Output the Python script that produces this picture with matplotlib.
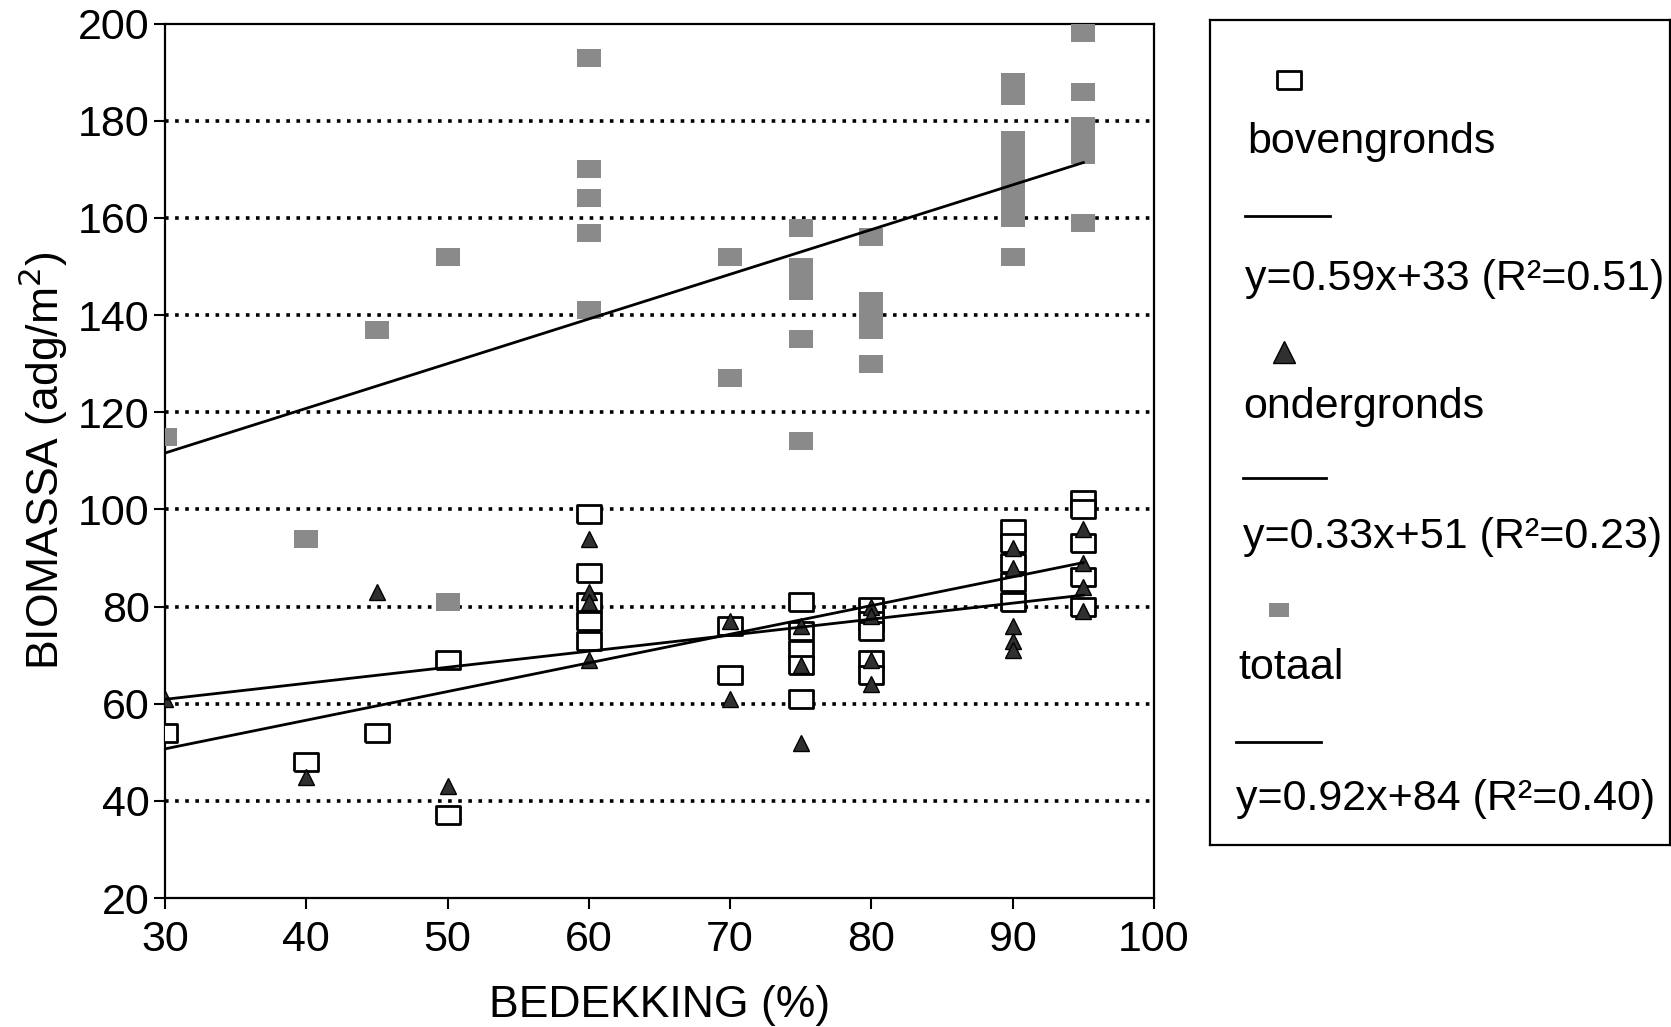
import numpy as np
import matplotlib.pyplot as plt

plt.rcParams['font.family'] = ['Liberation Sans', 'DejaVu Sans']

# bovengronds (open rectangles)
bov_x = [30, 40, 45, 50, 50, 60, 60, 60, 60, 60, 70, 70,
         75, 75, 75, 75, 75, 80, 80, 80, 80, 80,
         90, 90, 90, 90, 90, 95, 95, 95, 95, 95]
bov_y = [54, 48, 54, 69, 37, 99, 87, 81, 77, 73, 76, 66,
         81, 75, 71, 68, 61, 80, 77, 75, 69, 66,
         96, 93, 89, 85, 81, 102, 100, 93, 86, 80]

# ondergronds (triangles)
ond_x = [30, 40, 45, 50, 60, 60, 60, 60, 70, 70,
         75, 75, 75, 80, 80, 80, 80,
         90, 90, 90, 90, 90, 95, 95, 95, 95]
ond_y = [61, 45, 83, 43, 94, 83, 81, 69, 77, 61,
         76, 68, 52, 80, 78, 69, 64,
         92, 88, 76, 73, 71, 96, 89, 84, 79]

# totaal (grey blocks)
tot_x = [30, 40, 45, 50, 50, 60, 60, 60, 60, 60, 70, 70,
         75, 75, 75, 75, 75, 75, 80, 80, 80, 80, 80,
         90, 90, 90, 90, 90, 90, 90, 90, 90, 90,
         95, 95, 95, 95, 95, 95]
tot_y = [115, 94, 137, 152, 81, 193, 170, 164, 157, 141, 152, 127,
         158, 150, 147, 145, 135, 114, 156, 143, 140, 137, 130,
         188, 185, 176, 173, 170, 167, 165, 162, 160, 152,
         198, 186, 179, 176, 173, 159]

# regression lines (slope, intercept) from the legend
fits = {'bov': (0.59, 33), 'ond': (0.33, 51), 'tot': (0.92, 84)}
fit_labels = ['y=0.59x+33 (R²=0.51)', 'y=0.33x+51 (R²=0.23)', 'y=0.92x+84 (R²=0.40)']

rect = [(-1.3, -1), (1.3, -1), (1.3, 1), (-1.3, 1), (-1.3, -1)]
grey = '#8a8a8a'

fig = plt.figure(figsize=(16.71, 10.27), dpi=100)
ax = fig.add_axes([0.0987, 0.1256, 0.5919, 0.8514])

for yy in range(40, 200, 20):
    ax.axhline(yy, color='black', lw=2.6, ls=(0, (1, 1.8)), zorder=1)

ax.plot(tot_x, tot_y, ls='none', marker=rect, ms=17, mfc=grey, mec=grey, mew=0, zorder=3)
ax.plot(bov_x, bov_y, ls='none', marker=rect, ms=17, mfc='white', mec='black', mew=2, zorder=4)
ax.plot(ond_x, ond_y, ls='none', marker='^', ms=12, mfc='#303030', mec='black', mew=1, zorder=5)

xf = np.array([30, 95])
for k in ['bov', 'ond', 'tot']:
    a, b = fits[k]
    ax.plot(xf, a * xf + b, color='black', lw=2, zorder=6)

ax.set_xlim(30, 100)
ax.set_ylim(20, 200)
ax.set_xticks(range(30, 101, 10))
ax.set_yticks(range(20, 201, 20))
ax.tick_params(labelsize=31, length=8, width=1.5, direction='out')
ax.tick_params(axis='x', pad=8)
ax.tick_params(axis='y', pad=3)
for s in ax.spines.values():
    s.set_linewidth(1.6)
ax.set_xlabel('BEDEKKING (%)', fontsize=32, labelpad=18)
ax.set_ylabel('BIOMASSA (adg/m$^2$)', fontsize=32, labelpad=6)

# legend box drawn in pixel coordinates of the figure
lg = fig.add_axes([0.7241, 0.1772, 0.2753, 0.8033])
lg.set_xlim(1210, 1670)
lg.set_ylim(845, 20)
lg.set_xticks([])
lg.set_yticks([])
for s in lg.spines.values():
    s.set_linewidth(1.6)

lg.plot([1289], [80], ls='none', marker=rect, ms=17, mfc='white', mec='black', mew=2)
lg.text(1247, 142, 'bovengronds', fontsize=31, va='center')
lg.plot([1245, 1330], [216, 216], color='black', lw=2)
lg.text(1245, 279, fit_labels[0], fontsize=31, va='center')
lg.plot([1284], [352], ls='none', marker='^', ms=16, mfc='#303030', mec='black', mew=1)
lg.text(1243, 407, 'ondergronds', fontsize=31, va='center')
lg.plot([1243, 1326], [478, 478], color='black', lw=2)
lg.text(1243, 537, fit_labels[1], fontsize=31, va='center')
lg.plot([1279], [610], ls='none', marker=rect, ms=14, mfc=grey, mec=grey, mew=0)
lg.text(1238, 668, 'totaal', fontsize=31, va='center')
lg.plot([1236, 1321], [742, 742], color='black', lw=2)
lg.text(1236, 799, fit_labels[2], fontsize=31, va='center')

fig.savefig('out.png', dpi=100)
